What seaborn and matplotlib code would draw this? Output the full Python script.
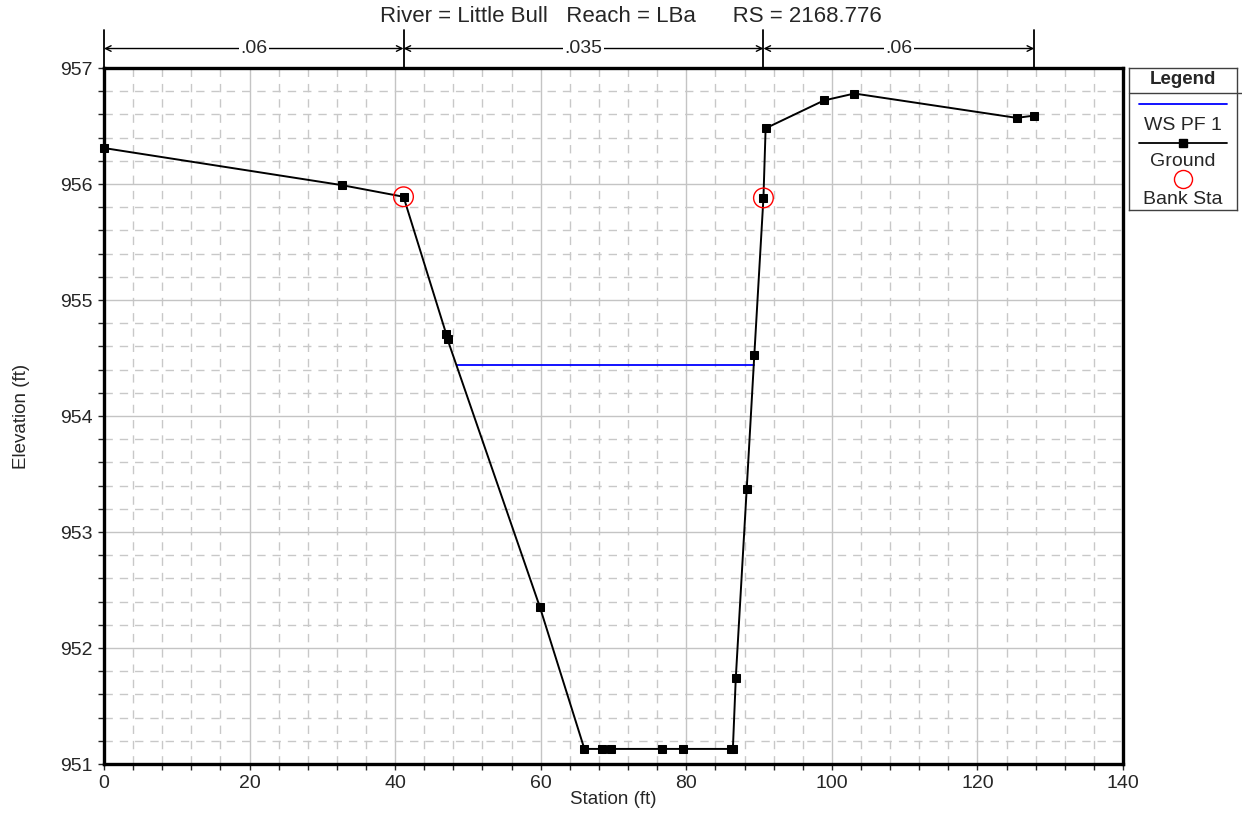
import numpy as np
import pandas as pd
import matplotlib
matplotlib.use("Agg")
import matplotlib.pyplot as plt
import seaborn as sns
from matplotlib.ticker import MultipleLocator
from matplotlib.lines import Line2D

# cross section data
station = [0.0, 32.7, 41.15, 47.0, 47.2, 59.9, 66.0, 68.4, 69.7, 76.6, 79.5,
           86.1, 86.4, 86.8, 88.3, 89.35, 90.6, 90.9, 98.9, 103.1, 125.4, 127.8]
elevation = [956.31, 955.99, 955.89, 954.71, 954.66, 952.35, 951.13, 951.13, 951.13,
             951.13, 951.13, 951.13, 951.13, 951.74, 953.37, 954.53, 955.88, 956.48,
             956.72, 956.78, 956.57, 956.59]
ws_station = [48.5, 89.25]
ws_elev = [954.44, 954.44]
bank_station = [41.15, 90.6]
bank_elev = [955.89, 955.88]
n_breaks = [0.0, 41.15, 90.6, 127.8]
n_values = [".06", ".035", ".06"]

ground = pd.DataFrame({"station": station, "elev": elevation})
ws = pd.DataFrame({"station": ws_station, "elev": ws_elev})
banks = pd.DataFrame({"station": bank_station, "elev": bank_elev})

sns.set_style("white")
plt.rcParams['font.family'] = ['Liberation Sans', 'DejaVu Sans']

fig = plt.figure(figsize=(12.42, 8.38), dpi=100)
ax = fig.add_axes([104/1242, 1-764/838, (1123-104)/1242, (764-68)/838])

#grid first so it sits under the lines
ax.set_xlim(0, 140)
ax.set_ylim(951, 957)
ax.xaxis.set_major_locator(MultipleLocator(20))
ax.xaxis.set_minor_locator(MultipleLocator(4))
ax.yaxis.set_major_locator(MultipleLocator(1))
ax.yaxis.set_minor_locator(MultipleLocator(0.2))
ax.grid(True, which='major', color='#c4c4c4', lw=1.0, ls='-')
ax.grid(True, which='minor', color='#c8c8c8', lw=1.0, ls=(0, (6, 5)))
ax.set_axisbelow(True)

sns.lineplot(data=ws, x="station", y="elev", color='#0000ff', lw=1.3,
             sort=False, estimator=None, ax=ax)
sns.lineplot(data=ground, x="station", y="elev", color='black', lw=1.4,
             marker='s', markersize=5.5, markeredgecolor='black',
             sort=False, estimator=None, ax=ax, clip_on=False, zorder=6)
sns.scatterplot(data=banks, x="station", y="elev", s=200, facecolor='none',
                edgecolor='red', linewidth=1.0, ax=ax, zorder=7)

ax.set_xlabel("Station (ft)", fontsize=13.5)
ax.set_ylabel("Elevation (ft)", fontsize=13.5)
ax.xaxis.set_label_coords(0.5, (764-799)/696)
ax.xaxis.label.set_va('center')
ax.yaxis.set_label_coords((22-104)/1019, 0.5)
ax.yaxis.label.set_va('center')
ax.tick_params(axis='both', which='major', direction='out', length=4, width=1,
               labelsize=14, pad=4)
ax.tick_params(axis='both', which='minor', direction='out', length=4, width=1)
ax.tick_params(bottom=True, left=True, top=False, right=False)
ax.tick_params(axis='both', which='minor', bottom=True, left=True)
for sp in ax.spines.values():
    sp.set_linewidth(2.4)
    sp.set_color('black')

# roughness annotation above the plot
trans = matplotlib.transforms.blended_transform_factory(ax.transData, ax.transAxes)
for xb in n_breaks:
    ax.plot([xb, xb], [1.0, 1.055], transform=trans, color='black', lw=1.3, clip_on=False)
for i, lab in enumerate(n_values):
    x0, x1 = n_breaks[i], n_breaks[i + 1]
    ax.annotate("", xy=(x0, 1.028), xytext=(x1, 1.028), xycoords=trans, textcoords=trans,
                arrowprops=dict(arrowstyle='<->', color='black', lw=1.0,
                                shrinkA=0, shrinkB=0, mutation_scale=10))
    ax.text((x0 + x1) / 2, 1.028, lab, transform=trans, ha='center', va='center',
            fontsize=14, bbox=dict(facecolor='white', edgecolor='none', pad=1.0))

fig.text(631/1242, 1-16/838, "River = Little Bull   Reach = LBa      RS = 2168.776",
         ha='center', va='center', fontsize=16)

# legend box drawn by hand
lax = fig.add_axes([1129/1242, 1-210/838, 108/1242, 142/838])
lax.set_xlim(0, 108)
lax.set_ylim(142, 0)
lax.set_xticks([])
lax.set_yticks([])
for sp in lax.spines.values():
    sp.set_linewidth(1.0)
    sp.set_color('#404040')
lax.text(54, 12, "Legend", ha='center', va='center', fontsize=13.5, fontweight='bold')
lax.add_line(Line2D([0, 113], [25, 25], color='#404040', lw=1.0, clip_on=False))
lax.add_line(Line2D([10, 98], [36, 36], color='#0000ff', lw=1.3))
lax.text(54, 58, "WS PF 1", ha='center', va='center', fontsize=14)
lax.add_line(Line2D([10, 98], [75, 75], color='black', lw=1.3))
lax.plot([54], [75], marker='s', color='black', markersize=5.5)
lax.text(54, 94, "Ground", ha='center', va='center', fontsize=14)
lax.plot([54], [111], marker='o', markersize=13, markerfacecolor='none',
         markeredgecolor='red', markeredgewidth=1.0)
lax.text(54, 132, "Bank Sta", ha='center', va='center', fontsize=14)

fig.savefig("out.png", dpi=100)
